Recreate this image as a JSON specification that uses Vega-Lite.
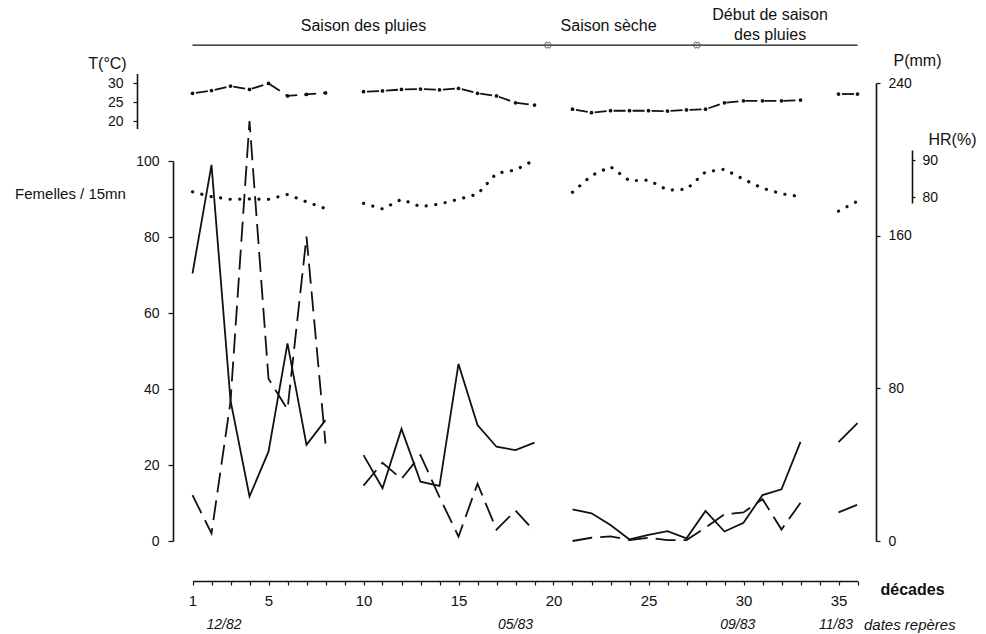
{
  "$schema": "https://vega.github.io/schema/vega-lite/v6.json",
  "width": 703,
  "height": 581,
  "autosize": {"type": "none"},
  "padding": {"left": 173, "top": 0, "right": 110, "bottom": 53},
  "background": "white",
  "config": {
    "view": {"stroke": null},
    "axis": {
      "grid": false,
      "domainColor": "#111",
      "tickColor": "#111",
      "labelColor": "#111",
      "titleColor": "#111",
      "labelFont": "Liberation Sans",
      "titleFont": "Liberation Sans",
      "labelFontSize": 14,
      "titleFontWeight": "normal",
      "domainWidth": 1.6,
      "tickWidth": 1.2
    },
    "text": {"font": "Liberation Sans", "color": "#111"}
  },
  "datasets": {
    "obs": [
      {"d": 1, "f": 70.4, "p": 24, "t": 27.3, "hr": 81.4, "seg": 1},
      {"d": 2, "f": 99, "p": 4, "t": 28.0, "hr": 80.1, "seg": 1},
      {"d": 3, "f": 37, "p": 73, "t": 29.2, "hr": 79.4, "seg": 1},
      {"d": 4, "f": 11.7, "p": 220, "t": 28.3, "hr": 79.5, "seg": 1},
      {"d": 5, "f": 23.5, "p": 85, "t": 29.9, "hr": 79.4, "seg": 1},
      {"d": 6, "f": 52, "p": 69, "t": 26.6, "hr": 80.7, "seg": 1},
      {"d": 7, "f": 25.3, "p": 159.5, "t": 27.0, "hr": 78.7, "seg": 1},
      {"d": 8, "f": 31.8, "p": 51, "t": 27.4, "hr": 76.9, "seg": 1},
      {"d": 10, "f": 22.6, "p": 29, "t": 27.7, "hr": 78.3, "seg": 2},
      {"d": 11, "f": 13.9, "p": 41, "t": 27.9, "hr": 76.8, "seg": 2},
      {"d": 12, "f": 29.5, "p": 32.5, "t": 28.3, "hr": 79.4, "seg": 2},
      {"d": 13, "f": 15.6, "p": 45, "t": 28.4, "hr": 77.4, "seg": 2},
      {"d": 14, "f": 14.5, "p": 23, "t": 28.2, "hr": 78.1, "seg": 2},
      {"d": 15, "f": 46.6, "p": 2.3, "t": 28.6, "hr": 79.4, "seg": 2},
      {"d": 16, "f": 30.5, "p": 30, "t": 27.3, "hr": 80.8, "seg": 2},
      {"d": 17, "f": 24.8, "p": 6, "t": 26.6, "hr": 86.4, "seg": 2},
      {"d": 18, "f": 23.9, "p": 16, "t": 24.8, "hr": 87.3, "seg": 2},
      {"d": 19, "f": 25.9, "p": 5, "t": 24.2, "hr": 90.0, "seg": 2},
      {"d": 21, "f": 8.3, "p": 0, "t": 23.1, "hr": 81.3, "seg": 3},
      {"d": 22, "f": 7.3, "p": 1.7, "t": 22.2, "hr": 85.8, "seg": 3},
      {"d": 23, "f": 4.2, "p": 2.4, "t": 22.7, "hr": 88.2, "seg": 3},
      {"d": 24, "f": 0.4, "p": 0.5, "t": 22.7, "hr": 84.4, "seg": 3},
      {"d": 25, "f": 1.6, "p": 1.7, "t": 22.7, "hr": 84.6, "seg": 3},
      {"d": 26, "f": 2.6, "p": 0.5, "t": 22.6, "hr": 81.9, "seg": 3},
      {"d": 27, "f": 0.7, "p": 0.5, "t": 22.9, "hr": 82.1, "seg": 3},
      {"d": 28, "f": 7.9, "p": 7, "t": 23.1, "hr": 86.8, "seg": 3},
      {"d": 29, "f": 2.5, "p": 14, "t": 24.8, "hr": 87.5, "seg": 3},
      {"d": 30, "f": 4.8, "p": 15, "t": 25.3, "hr": 84.8, "seg": 3},
      {"d": 31, "f": 12.1, "p": 22, "t": 25.3, "hr": 82.4, "seg": 3},
      {"d": 32, "f": 13.6, "p": 6, "t": 25.3, "hr": 80.9, "seg": 3},
      {"d": 33, "f": 26.1, "p": 20, "t": 25.5, "hr": 80.1, "seg": 3},
      {"d": 35, "f": 26, "p": 15, "t": 27.1, "hr": 76.2, "seg": 4},
      {"d": 36, "f": 31, "p": 19, "t": 27.1, "hr": 78.9, "seg": 4}
    ],
    "seasons": [
      {"d": 10, "lvl": 135.5, "label": "Saison des pluies"},
      {"d": 22.9, "lvl": 135.5, "label": "Saison sèche"},
      {"d": 31.4, "lvl": 138.3, "label": "Début de saison"},
      {"d": 31.4, "lvl": 133.1, "label": "des pluies"}
    ],
    "bar": [{"d": 1, "d2": 36, "lvl": 130.5}],
    "cuts": [{"d": 19.7, "lvl": 130.5}, {"d": 27.55, "lvl": 130.5}],
    "dates": [
      {"d": 2.66, "lvl": -22, "label": "12/82"},
      {"d": 18, "lvl": -22, "label": "05/83"},
      {"d": 29.7, "lvl": -22, "label": "09/83"},
      {"d": 34.87, "lvl": -22, "label": "11/83"}
    ],
    "datesTitle": [{"d": 36.34, "lvl": -22, "label": "dates repères"}]
  },
  "encoding": {
    "x": {
      "field": "d",
      "type": "quantitative",
      "scale": {"domain": [1, 36], "range": [19.5, 684.5], "nice": false, "zero": false},
      "axis": {
        "values": [1,2,3,4,5,6,7,8,9,10,11,12,13,14,15,16,17,18,19,20,21,22,23,24,25,26,27,28,29,30,31,32,33,34,35,36],
        "labelExpr": "datum.value == 1 || datum.value % 5 == 0 ? datum.label : ''",
        "format": "d",
        "tickSize": 4,
        "labelPadding": 8,
        "labelFontSize": 15,
        "labelFlush": false,
        "labelOverlap": false,
        "title": "décades",
        "titleX": 707,
        "titleY": 8,
        "titleAlign": "left",
        "titleBaseline": "middle",
        "titleFontSize": 16,
        "titleFontWeight": "bold"
      }
    }
  },
  "layer": [
    {
      "encoding": {
        "y": {
          "field": "f",
          "type": "quantitative",
          "scale": {"domain": [0, 100], "range": [541, 161], "nice": false, "zero": false},
          "axis": {
            "orient": "left",
            "values": [0, 20, 40, 60, 80, 100],
            "tickSize": 5,
            "labelPadding": 9,
            "title": "Femelles / 15mn",
            "titleAngle": 0,
            "titleX": -103,
            "titleY": 193,
            "titleAlign": "center",
            "titleBaseline": "middle",
            "titleFontSize": 15
          }
        }
      },
      "layer": [
        {
          "data": {"name": "obs"},
          "mark": {"type": "line", "color": "#111", "strokeWidth": 1.8},
          "encoding": {"detail": {"field": "seg"}}
        },
        {
          "data": {"name": "bar"},
          "mark": {"type": "rule", "color": "#111", "strokeWidth": 1.4},
          "encoding": {"x2": {"field": "d2"}, "y": {"field": "lvl", "type": "quantitative"}}
        },
        {
          "data": {"name": "cuts"},
          "mark": {"type": "point", "shape": "cross", "angle": 45, "size": 40, "filled": false, "strokeWidth": 1, "color": "#555"},
          "encoding": {"y": {"field": "lvl", "type": "quantitative"}}
        },
        {
          "data": {"name": "seasons"},
          "mark": {"type": "text", "fontSize": 16, "align": "center", "baseline": "middle"},
          "encoding": {"y": {"field": "lvl", "type": "quantitative"}, "text": {"field": "label"}}
        },
        {
          "data": {"name": "dates"},
          "mark": {"type": "text", "fontSize": 14, "fontStyle": "italic", "align": "center", "baseline": "middle"},
          "encoding": {"y": {"field": "lvl", "type": "quantitative"}, "text": {"field": "label"}}
        },
        {
          "data": {"name": "datesTitle"},
          "mark": {"type": "text", "fontSize": 15, "fontStyle": "italic", "align": "left", "baseline": "middle"},
          "encoding": {"y": {"field": "lvl", "type": "quantitative"}, "text": {"field": "label"}}
        }
      ]
    },
    {
      "data": {"name": "obs"},
      "mark": {"type": "line", "color": "#111", "strokeWidth": 1.8, "strokeDash": [20, 8]},
      "encoding": {
        "detail": {"field": "seg"},
        "y": {
          "field": "p",
          "type": "quantitative",
          "scale": {"domain": [0, 240], "range": [541, 83], "nice": false, "zero": false},
          "axis": {
            "orient": "right",
            "values": [0, 80, 160, 240],
            "tickSize": 4,
            "labelPadding": 8,
            "title": "P(mm)",
            "titleAngle": 0,
            "titleX": 41,
            "titleY": 60,
            "titleAlign": "center",
            "titleBaseline": "middle",
            "titleFontSize": 16
          }
        }
      }
    },
    {
      "data": {"name": "obs"},
      "encoding": {
        "detail": {"field": "seg"},
        "y": {
          "field": "t",
          "type": "quantitative",
          "scale": {"domain": [18, 32.5], "range": [128.6, 73.5], "nice": false, "zero": false},
          "axis": {
            "orient": "left",
            "offset": 36,
            "values": [20, 25, 30],
            "tickSize": 4,
            "labelPadding": 10,
            "title": "T(°C)",
            "titleAngle": 0,
            "titleX": -30,
            "titleY": 63,
            "titleAlign": "center",
            "titleBaseline": "middle",
            "titleFontSize": 16
          }
        }
      },
      "layer": [
        {"mark": {"type": "line", "color": "#111", "strokeWidth": 1.8, "strokeDash": [12, 7], "strokeDashOffset": -3.5}},
        {"mark": {"type": "point", "filled": true, "size": 14, "color": "#111", "opacity": 1}}
      ]
    },
    {
      "data": {"name": "obs"},
      "mark": {"type": "line", "color": "#111", "strokeWidth": 3.2, "strokeDash": [0.1, 9.5], "strokeCap": "round"},
      "encoding": {
        "detail": {"field": "seg"},
        "y": {
          "field": "hr",
          "type": "quantitative",
          "scale": {"domain": [78.4, 92.7], "range": [203, 150], "nice": false, "zero": false},
          "axis": {
            "orient": "right",
            "offset": 36,
            "values": [80, 90],
            "tickSize": 3,
            "labelPadding": 7,
            "title": "HR(%)",
            "titleAngle": 0,
            "titleX": 40,
            "titleY": 139,
            "titleAlign": "center",
            "titleBaseline": "middle",
            "titleFontSize": 16
          }
        }
      }
    }
  ],
  "resolve": {"scale": {"y": "independent"}, "axis": {"y": "independent"}}
}
